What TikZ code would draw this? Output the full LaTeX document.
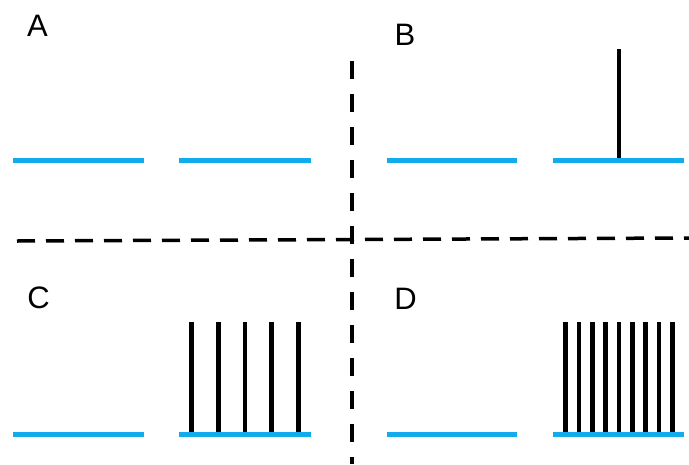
\documentclass[tikz,border=0pt]{standalone}
\usepackage{fontspec}
\setmainfont{Liberation Sans}
\definecolor{memb}{RGB}{18,172,236}
\begin{document}
\begin{tikzpicture}[x=1pt,y=-1pt,
  membrane/.style={draw=memb,line width=5pt},
  spike/.style={draw=black,line width=4.5pt},
  divider/.style={draw=black,line width=3.5pt,dash pattern=on 18pt off 11pt},
  panel/.style={font=\fontsize{31}{31}\selectfont,inner sep=0pt}]
\useasboundingbox (0,0) rectangle (689,464);
% dividers
\draw[divider] (17,241) -- (689,238);
\draw[divider,dash pattern=on 18pt off 15pt] (352,61) -- (352,464);
% labels
\node[panel] (la) at (37.5,25.5) {A};
\node[panel] (lb) at (405,34.5) {B};
\node[panel] (lc) at (38.5,297.5) {C};
\node[panel] (ld) at (405.5,298.5) {D};
% A
\draw[membrane] (13,160) -- (144,160);
\draw[membrane] (179,160) -- (311,160);
% B
\draw[membrane] (387,160) -- (517,160);
\draw[spike] (619,49) -- (619,158);
\draw[membrane] (553,160) -- (684,160);
% C
\draw[membrane] (13,434) -- (144,434);
\foreach \x in {191.7,218.3,245,271.7,298.3}
  \draw[spike] (\x,322) -- (\x,432);
\draw[membrane] (179,434) -- (311,434);
% D
\draw[membrane] (387,434) -- (517,434);
\foreach \i in {0,...,8}
  \draw[spike] ({565.7+13.33*\i},322) -- ({565.7+13.33*\i},432);
\draw[membrane] (553,434) -- (684,434);
\end{tikzpicture}
\end{document}
